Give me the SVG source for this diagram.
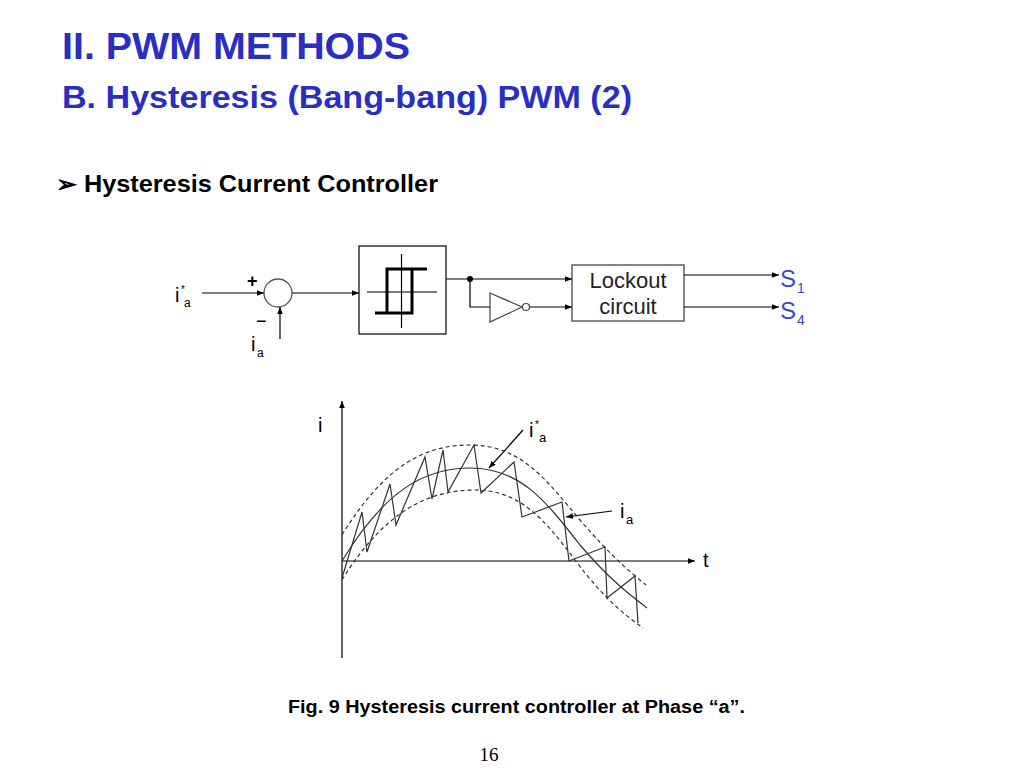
<svg xmlns="http://www.w3.org/2000/svg" width="1024" height="768" viewBox="0 0 1024 768">
<defs>
<marker id="ah" viewBox="0 0 10 10" refX="10" refY="5" markerWidth="7" markerHeight="7" orient="auto" markerUnits="userSpaceOnUse"><path d="M0,1 L10,5 L0,9 z" fill="#000"/></marker>
<style>
.t{font-family:"Liberation Sans",Arial,sans-serif}
.ln{stroke:#000;stroke-width:1.2;fill:none}
.c{stroke:#333;stroke-width:1.2;fill:none}
.d{stroke:#333;stroke-width:1.2;fill:none;stroke-dasharray:4,3}
.z{stroke:#333;stroke-width:1.2;fill:none}
</style>
</defs>
<rect width="1024" height="768" fill="#fff"/>
<text class="t" x="62" y="59" font-size="37" font-weight="bold" fill="#2a2fc4" textLength="348" lengthAdjust="spacingAndGlyphs">II. PWM METHODS</text>
<text class="t" x="62" y="108" font-size="32" font-weight="bold" fill="#2a2fc4" textLength="570" lengthAdjust="spacingAndGlyphs">B. Hysteresis (Bang-bang) PWM (2)</text>
<text class="t" x="56" y="192" font-size="23" font-weight="bold" fill="#000" textLength="382" lengthAdjust="spacingAndGlyphs">➢ Hysteresis Current Controller</text>

<g id="sum"><circle cx="278" cy="293" r="14" fill="#fff" stroke="#555" stroke-width="1.3"/>
<text class="t" x="247" y="287" font-size="18" font-weight="bold">+</text>
<text class="t" x="256" y="327" font-size="18">−</text></g>
<g id="inputs"><text class="t" x="175" y="302" font-size="20">i</text><text class="t" x="181" y="293" font-size="10">*</text><text class="t" x="184" y="307" font-size="12">a</text>
<text class="t" x="251" y="351" font-size="20">i</text><text class="t" x="257" y="357" font-size="12">a</text></g>
<g id="hyst"><rect x="359" y="246" width="87" height="88" fill="#fff" stroke="#000" stroke-width="1.2"/>
<line x1="401.5" y1="254" x2="401.5" y2="328" class="ln"/><line x1="367" y1="292" x2="437" y2="292" class="ln"/>
<path d="M427,269 H387 V313 M375,313 H412 V269" stroke="#000" stroke-width="3" fill="none"/></g>
<g id="inv"><path d="M490,293 L522,307 L490,322 Z" fill="#fff" stroke="#444" stroke-width="1.2"/><circle cx="526" cy="307" r="3.5" fill="#fff" stroke="#444" stroke-width="1.2"/></g>
<g id="lockout"><rect x="572" y="265" width="112" height="56" fill="#fff" stroke="#444" stroke-width="1.3"/>
<text class="t" x="628" y="288" font-size="22" text-anchor="middle" fill="#222">Lockout</text>
<text class="t" x="628" y="314" font-size="22" text-anchor="middle" fill="#222">circuit</text></g>
<g id="outs" class="t" fill="#3a45d6"><text x="780" y="287" font-size="24">S</text><text x="797" y="293" font-size="14">1</text>
<text x="780" y="319" font-size="24">S</text><text x="797" y="325" font-size="14">4</text></g>
<g id="connectors">
<line x1="202" y1="293" x2="264" y2="293" class="ln" marker-end="url(#ah)"/>
<line x1="280" y1="339" x2="280" y2="307" class="ln" marker-end="url(#ah)"/>
<line x1="292" y1="293" x2="359" y2="293" class="ln" marker-end="url(#ah)"/>
<line x1="446" y1="279" x2="572" y2="279" class="ln" marker-end="url(#ah)"/>
<circle cx="470" cy="279" r="3" fill="#000"/>
<path d="M470,279 V307 H490" class="ln"/>
<line x1="530" y1="307" x2="572" y2="307" class="ln" marker-end="url(#ah)"/>
<line x1="684" y1="275" x2="779" y2="275" class="ln" marker-end="url(#ah)"/>
<line x1="684" y1="307" x2="779" y2="307" class="ln" marker-end="url(#ah)"/>
</g>

<g id="chart">
<line x1="342" y1="658" x2="342" y2="401" class="ln" marker-end="url(#ah)"/>
<line x1="342" y1="561" x2="695" y2="561" class="ln" marker-end="url(#ah)"/>
<text class="t" x="318" y="432" font-size="20">i</text>
<text class="t" x="703" y="567" font-size="20">t</text>
<path class="c" d="M342,561 C385,490 425,468 470,468 C520,468 545,500 580,545 C610,580 630,595 647,608"/>
<path class="d" d="M342,535 C385,465 425,445 470,445 C520,445 545,478 580,520 C610,555 630,572 646,585"/>
<path class="d" d="M342,580 C385,510 430,490 475,490 C520,490 545,520 575,560 C605,600 625,615 643,628"/>
<polyline class="z" points="342,578 362,512 367,552 390,484 396,525 425,457 432,499 443,450 448,492 474,445 481,493 514,462 522,517 562,502 569,561 605,547 607,598 635,576 638,623"/>
<text class="t" x="529" y="437" font-size="20">i</text><text class="t" x="535" y="428" font-size="10">*</text><text class="t" x="539" y="442" font-size="13">a</text>
<text class="t" x="620" y="518" font-size="20">i</text><text class="t" x="626" y="524" font-size="13">a</text>
<line x1="523" y1="430" x2="489" y2="468" class="ln" marker-end="url(#ah)"/>
<line x1="612" y1="511" x2="566" y2="517" class="ln" marker-end="url(#ah)"/>
</g>
<text class="t" x="288" y="713" font-size="18" font-weight="bold" textLength="457" lengthAdjust="spacingAndGlyphs">Fig. 9 Hysteresis current controller at Phase “a”.</text>
<text x="489" y="761" font-size="19" text-anchor="middle" font-family="Liberation Serif,serif">16</text>
</svg>
